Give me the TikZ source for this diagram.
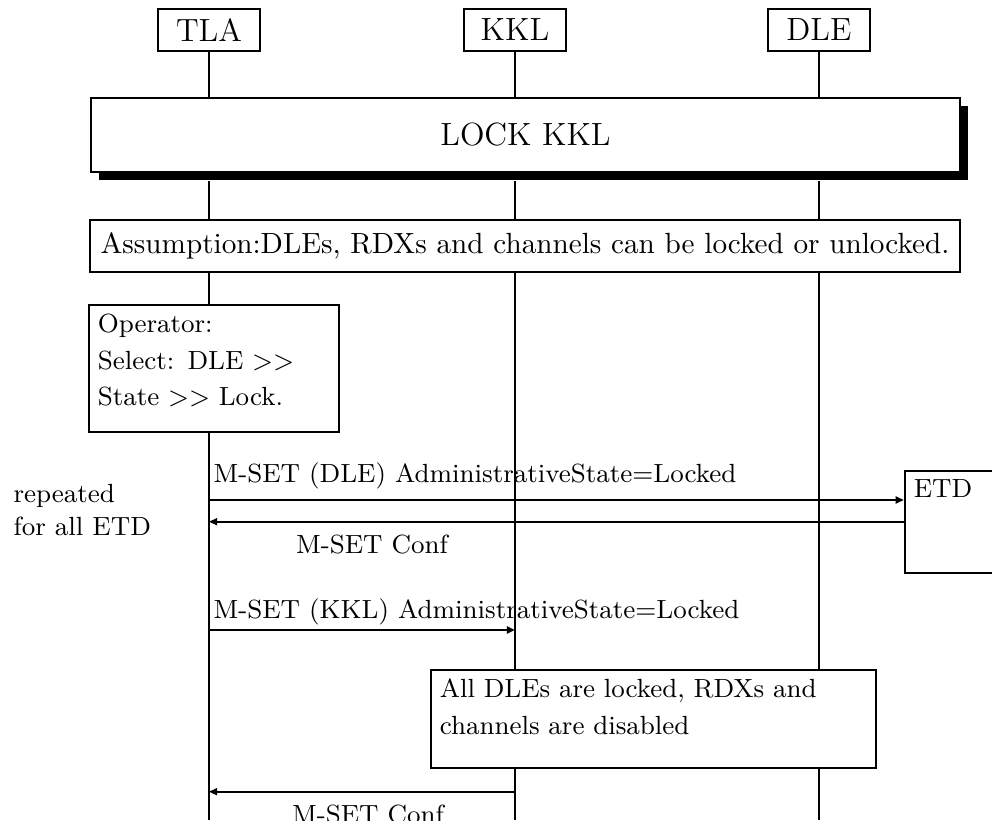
\documentclass[tikz,border=0pt]{standalone}
\usepackage{tikz}
\usetikzlibrary{positioning,arrows.meta,shadows}
\tikzset{
  ent/.style={rectangle, draw, line width=0.8pt, inner sep=0pt,
              font=\fontsize{11}{13}\selectfont,
              minimum width=34.9pt, minimum height=14.4pt},
  phase/.style={rectangle, draw, line width=0.8pt, fill=white, inner sep=0pt,
              font=\fontsize{11}{13}\selectfont,
              drop shadow={shadow xshift=2.7pt, shadow yshift=-2.7pt, fill=black, opacity=1}},
  box/.style={rectangle, draw, line width=0.8pt, inner sep=0pt},
  txt/.style={anchor=north west, align=left, inner sep=3.2pt,
              font=\fontsize{9}{12.6}\selectfont},
  life/.style={line width=1pt},
  msg/.style={-{Triangle[length=2.8pt, width=2.4pt]}, line width=0.7pt},
  lbl/.style={font=\small, inner sep=0pt}
}

\begin{document}
\begin{tikzpicture}[x=0.3425pt, y=-0.3425pt]
\useasboundingbox (0,0) rectangle (992,830);
\begin{scope}
\clip (0,0) rectangle (992,820);
% instances
\node[ent] (tla) at (209,30) {TLA};
\node[ent] (kkl) at (515,30) {KKL};
\node[ent] (dle) at (819,30) {DLE};
\node[phase, minimum width=297.6pt, minimum height=25.3pt] (lock) at (525.5,135) {LOCK KKL};
\node[box, minimum width=298pt, minimum height=17.8pt] (as) at (525,246)
  {Assumption:DLEs, RDXs and channels can be locked or unlocked.};
\node[box, minimum width=85.6pt, minimum height=43.5pt,
  label={[txt, text width=80pt]north west:{Operator:\\Select: DLE $>>$\\State $>>$ Lock.}}] (op) at (214,368.5) {};
\node[box, minimum width=41.1pt, minimum height=34.9pt,
  label={[txt]north west:ETD}] (etd) at (965,522) {};
\node[box, minimum width=152.4pt, minimum height=33.6pt,
  label={[txt, text width=146pt]north west:{All DLEs are locked, RDXs and\\channels are disabled}}] (all) at (653.5,719) {};
% lifelines
\foreach \h in {tla,kkl,dle} {
  \draw[life] (\h.south) -- (\h |- lock.north);
  \draw[life] (\h |- 0,181) -- (\h |- as.north);
}
\draw[life] (tla |- as.south) -- (tla |- op.north);
\draw[life] (tla |- op.south) -- (tla |- 0,820);
\foreach \h in {kkl,dle} {
  \draw[life] (\h |- as.south) -- (\h |- all.north);
  \draw[life] (\h |- all.south) -- (\h |- 0,820);
}
% messages
\node[lbl, align=left, anchor=north west, font=\fontsize{9}{11.3}\selectfont] (rep) at (13,484) {repeated\\for all ETD};
\node[lbl, anchor=base west] (l1) at (213,482) {M-SET (DLE) AdministrativeState=Locked};
\draw[msg] (tla |- 0,500) -- (etd.west |- 0,500);
\draw[msg] (etd.west |- 0,521.7) -- (tla |- 0,521.7);
\node[lbl, anchor=base] (l2) at (372,553) {M-SET Conf};
\node[lbl, anchor=base west] (l3) at (213,618) {M-SET (KKL) AdministrativeState=Locked};
\draw[msg] (tla |- 0,630) -- (kkl |- 0,630);
\draw[msg] (kkl |- 0,791.7) -- (tla |- 0,791.7);
\node[lbl, anchor=base] (l4) at (368,823) {M-SET Conf};
\end{scope}
\end{tikzpicture}
\end{document}
